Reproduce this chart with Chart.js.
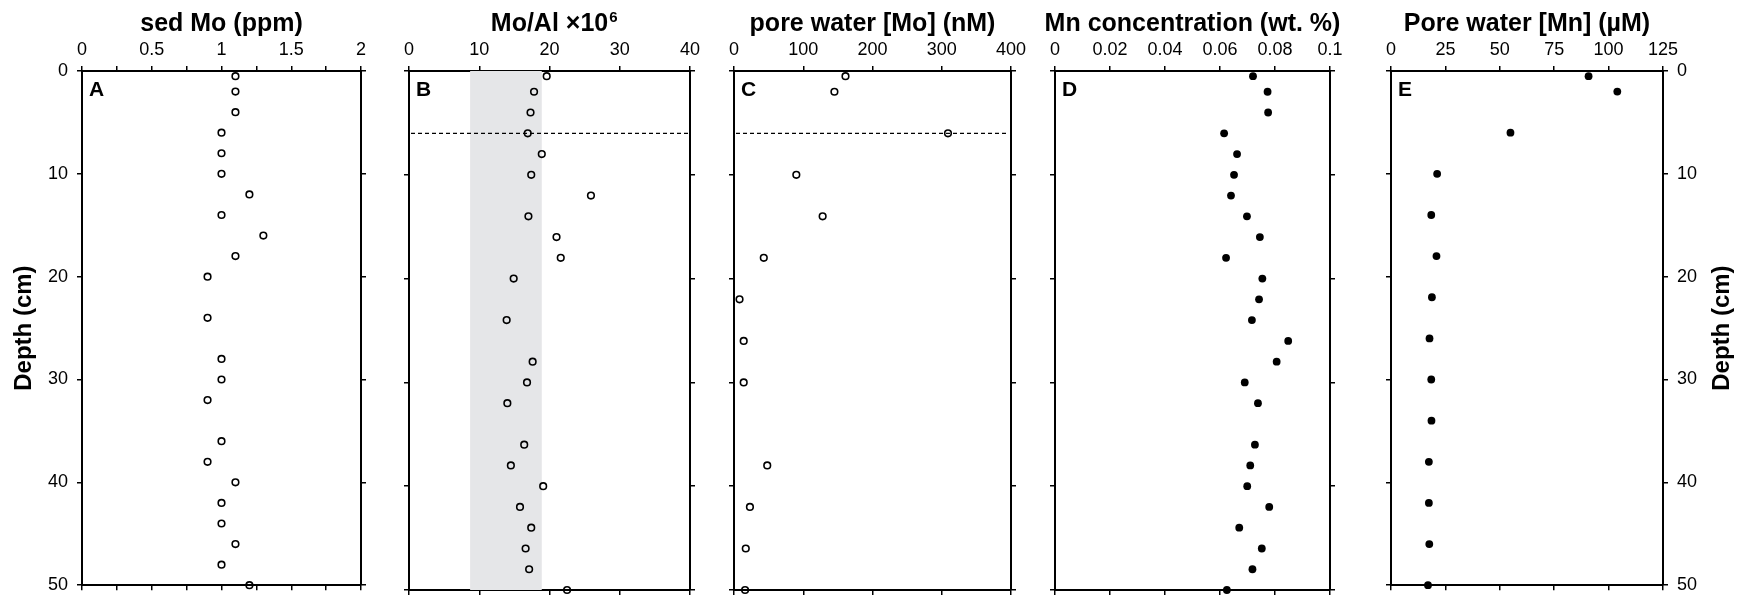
<!DOCTYPE html>
<html>
<head>
<meta charset="utf-8">
<script src="https://cdn.jsdelivr.net/npm/chart.js@4.4.1/dist/chart.umd.min.js"></script>
<style>
body { margin: 0; background: #fff; }
#painel { position: relative; width: 1743px; height: 605px; }
#painel canvas { position: absolute; top: 0; }
</style>
</head>
<body>
<div id="painel">
    <canvas id="grafico0" width="385" height="605" style="left:0px"></canvas>
    <canvas id="grafico1" width="327" height="605" style="left:385px"></canvas>
    <canvas id="grafico2" width="321" height="605" style="left:712px"></canvas>
    <canvas id="grafico3" width="327" height="605" style="left:1033px"></canvas>
    <canvas id="grafico4" width="383" height="605" style="left:1360px"></canvas>
</div>
<script>
var profundidadeSed = [0.5, 2, 4, 6, 8, 10, 12, 14, 16, 18, 20, 24, 28, 30, 32, 36, 38, 40, 42, 44, 46, 48, 50];
var sedMo = [1.1, 1.1, 1.1, 1.0, 1.0, 1.0, 1.2, 1.0, 1.3, 1.1, 0.9, 0.9, 1.0, 1.0, 0.9, 1.0, 0.9, 1.1, 1.0, 1.0, 1.1, 1.0, 1.2];
var moAl = [19.6, 17.8, 17.3, 16.9, 18.9, 17.4, 25.9, 17.0, 21.0, 21.6, 14.9, 13.9, 17.6, 16.8, 14.0, 16.4, 14.5, 19.1, 15.8, 17.4, 16.6, 17.1, 22.5];

var profundidadePoroMo = [0.5, 2, 6, 10, 14, 18, 22, 26, 30, 38, 42, 46, 50];
var poroMo = [161, 145, 309, 90, 128, 43, 8, 14, 14, 48, 23, 17, 16];

var profundidadeMn = [0.5, 2, 4, 6, 8, 10, 12, 14, 16, 18, 20, 22, 24, 26, 28, 30, 32, 36, 38, 40, 42, 44, 46, 48, 50];
var mnSed = [0.0720, 0.0773, 0.0775, 0.0615, 0.0662, 0.0651, 0.0640, 0.0698, 0.0745, 0.0622, 0.0754, 0.0742, 0.0716, 0.0848, 0.0806, 0.0690, 0.0738, 0.0727, 0.0710, 0.0699, 0.0779, 0.0670, 0.0752, 0.0718, 0.0625];

var profundidadePoroMn = [0.5, 2, 6, 10, 14, 18, 22, 26, 30, 34, 38, 42, 46, 50];
var poroMn = [90.8, 104, 54.9, 21.2, 18.5, 20.9, 18.8, 17.7, 18.5, 18.6, 17.4, 17.4, 17.6, 17.0];

// faixa cinza do painel B e linha tracejada (B e C)
var faixaMoAl = [8.7, 18.9];
var linhaTracejada = [6];

// eixos
var titulos = ['sed Mo (ppm)', 'Mo/Al \u00d710', 'pore water [Mo] (nM)', 'Mn concentration (wt. %)', 'Pore water [Mn] (\u00b5M)'];
var sobrescritos = ['', '6', '', '', ''];
var letras = ['A', 'B', 'C', 'D', 'E'];
var eixoXMax = [2, 40, 400, 0.1, 125];
var eixoXPasso = [0.25, 10, 100, 0.02, 25];
var eixoXRotulo = [0.5, 10, 100, 0.02, 25];
var profundidadeMax = 50;
var profundidadePasso = 10;
var tituloProfundidade = 'Depth (cm)';

var fonte = "'Liberation Sans', Arial, Helvetica, sans-serif";
var fonteTick = { family: fonte, size: 18 };

// larguras das margens de cada canvas (esquerda, direita)
var margens = [[82, 24], [24, 22], [22, 22], [22, 30], [31, 80]];

function montarPontos(valores, profundidades) {
    var pontos = [];
    for (var cont = 0; cont < valores.length; cont++) {
        pontos.push({ x: valores[cont], y: profundidades[cont] });
    }
    return pontos;
}

function gradeComum() {
    return { display: true, drawOnChartArea: false, drawTicks: true, tickLength: 5, color: '#000', lineWidth: 1.5 };
}

function bordaComum() {
    return { display: true, color: '#000', width: 2 };
}

function eixoX(i, posicao) {
    return {
        type: 'linear',
        position: posicao,
        min: 0,
        max: eixoXMax[i],
        ticks: {
            display: posicao == 'top',
            stepSize: eixoXPasso[i],
            autoSkip: false,
            maxRotation: 0,
            padding: 5,
            color: '#000',
            font: fonteTick,
            callback: function (valor) {
                var r = valor / eixoXRotulo[i];
                if (Math.abs(r - Math.round(r)) > 1e-6) return '';
                return String(parseFloat(valor.toFixed(3)));
            }
        },
        grid: gradeComum(),
        border: bordaComum(),
        afterFit: function (escala) {
            escala.height = posicao == 'top' ? 71 : 15;
        }
    };
}

function eixoY(i, posicao) {
    var mostrar = (i == 0 && posicao == 'left') || (i == 4 && posicao == 'right');
    var largura = posicao == 'left' ? margens[i][0] : margens[i][1];
    return {
        type: 'linear',
        position: posicao,
        reverse: true,
        min: 0,
        max: profundidadeMax,
        ticks: { display: mostrar, stepSize: profundidadePasso, padding: 9, color: '#000', font: fonteTick },
        grid: gradeComum(),
        border: bordaComum(),
        title: {
            display: i == 0 && posicao == 'left',
            text: tituloProfundidade,
            color: '#000',
            font: { family: fonte, size: 24, weight: 'bold' },
            padding: { top: 10, bottom: 0 }
        },
        afterFit: function (escala) {
            escala.width = largura;
        }
    };
}

function pluginDecoracao(i) {
    return {
        id: 'decoracao' + i,
        beforeDatasetsDraw: function (chart) {
            var ctx = chart.ctx;
            var area = chart.chartArea;
            var ex = chart.scales.x;
            var ey = chart.scales.y;
            ctx.save();
            if (i == 1) {
                var x1 = ex.getPixelForValue(faixaMoAl[0]);
                var x2 = ex.getPixelForValue(faixaMoAl[1]);
                ctx.fillStyle = '#e5e6e8';
                ctx.fillRect(x1, area.top, x2 - x1, area.bottom - area.top);
            }
            if (i == 1 || i == 2) {
                var yl = ey.getPixelForValue(linhaTracejada[0]);
                ctx.strokeStyle = '#000';
                ctx.lineWidth = 1.2;
                ctx.setLineDash([4, 3]);
                ctx.beginPath();
                ctx.moveTo(area.left + 2, yl);
                ctx.lineTo(area.right - 2, yl);
                ctx.stroke();
            }
            ctx.restore();
        },
        afterDraw: function (chart) {
            var ctx = chart.ctx;
            var area = chart.chartArea;
            var centro = (area.left + area.right) / 2;
            ctx.save();
            ctx.fillStyle = '#000';
            // titulo do painel (com sobrescrito quando houver)
            ctx.font = 'bold 25px ' + fonte;
            ctx.textAlign = 'center';
            ctx.textBaseline = 'alphabetic';
            ctx.fillText(titulos[i], centro, 31);
            if (sobrescritos[i] != '') {
                var larg = ctx.measureText(titulos[i]).width;
                ctx.font = 'bold 15px ' + fonte;
                ctx.textAlign = 'left';
                ctx.fillText(sobrescritos[i], centro + larg / 2 + 1, 22);
            }
            // letra do painel
            ctx.font = 'bold 21px ' + fonte;
            ctx.textAlign = 'left';
            ctx.fillText(letras[i], area.left + 7, 96);
            // titulo da profundidade do lado direito
            if (i == 4) {
                ctx.translate(area.right + 59, (area.top + area.bottom) / 2);
                ctx.rotate(-Math.PI / 2);
                ctx.font = 'bold 24px ' + fonte;
                ctx.textAlign = 'center';
                ctx.textBaseline = 'middle';
                ctx.fillText(tituloProfundidade, 0, 0);
            }
            ctx.restore();
        }
    };
}

function criarGrafico(i, valores, profundidades, cheio) {
    var ctx = document.getElementById('grafico' + i);
    new Chart(ctx, {
        type: 'scatter',
        data: {
            datasets: [{
                data: montarPontos(valores, profundidades),
                xAxisID: 'x',
                yAxisID: 'y',
                pointStyle: 'circle',
                pointRadius: cheio ? 3.9 : 3.3,
                borderWidth: cheio ? 0 : 1.6,
                borderColor: '#000',
                backgroundColor: cheio ? '#000' : 'rgba(0,0,0,0)',
                showLine: false,
                clip: false
            }]
        },
        options: {
            responsive: false,
            animation: false,
            layout: { padding: 0 },
            plugins: { legend: { display: false }, tooltip: { enabled: false } },
            scales: {
                x: eixoX(i, 'top'),
                x2: eixoX(i, 'bottom'),
                y: eixoY(i, 'left'),
                y2: eixoY(i, 'right')
            }
        },
        plugins: [pluginDecoracao(i)]
    });
}

criarGrafico(0, sedMo, profundidadeSed, false);
criarGrafico(1, moAl, profundidadeSed, false);
criarGrafico(2, poroMo, profundidadePoroMo, false);
criarGrafico(3, mnSed, profundidadeMn, true);
criarGrafico(4, poroMn, profundidadePoroMn, true);
</script>
</body>
</html>
